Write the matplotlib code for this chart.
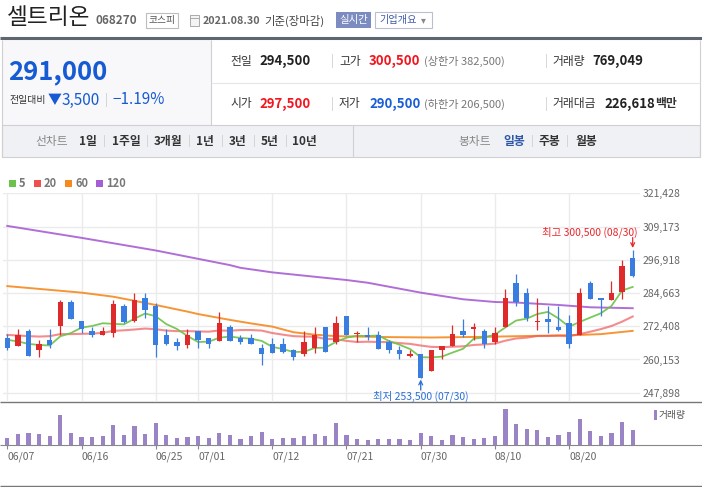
import matplotlib
matplotlib.use('Agg')
import matplotlib.pyplot as plt
from matplotlib.patches import Rectangle
import numpy as np

plt.rcParams['font.family'] = ['Noto Sans CJK KR', 'DejaVu Sans']

# ---------------- data ----------------
dates = ['06/07', '06/08', '06/09', '06/10', '06/11', '06/14', '06/15', '06/16', '06/17', '06/18',
         '06/21', '06/22', '06/23', '06/24', '06/25', '06/28', '06/29', '06/30',
         '07/01', '07/02', '07/05', '07/06', '07/07', '07/08', '07/09', '07/12', '07/13', '07/14',
         '07/15', '07/16', '07/19', '07/20', '07/21', '07/22', '07/23', '07/26', '07/27', '07/28',
         '07/29', '07/30',
         '08/02', '08/03', '08/04', '08/05', '08/06', '08/09', '08/10', '08/11', '08/12', '08/13',
         '08/17', '08/18', '08/19', '08/20', '08/23', '08/24', '08/25', '08/26', '08/27', '08/30']

opens = [268000, 265000, 270500, 263500, 267500, 272500, 281500, 274500, 270500, 269000,
         270000, 280000, 274500, 283000, 280000, 269000, 266500, 265500, 270500, 268000,
         267000, 272000, 268000, 268000, 264500, 266000, 266000, 263500, 262000, 264500,
         272000, 266500, 276000, 269500, 269000, 269000, 266500, 263500, 261500, 262000,
         256000, 263500, 265000, 270500, 271500, 270500, 266500, 272000, 288500, 284500,
         274000, 275000, 272000, 273500, 269000, 288500, 283000, 282000, 285000, 297500]
highs = [269500, 271500, 271500, 267500, 271500, 282000, 282000, 274500, 272000, 272000,
         282000, 280500, 284500, 284500, 281000, 271500, 268000, 271500, 270500, 268000,
         277500, 273000, 269000, 269500, 266000, 268000, 268000, 264000, 270500, 272000,
         272000, 276000, 276000, 270500, 272000, 270500, 267500, 265000, 263500, 262000,
         263500, 265000, 273000, 275000, 273500, 271500, 272000, 286000, 291500, 286500,
         283000, 280000, 280000, 276500, 286500, 289000, 283000, 289000, 297000, 300500]
lows = [263500, 265000, 261500, 261000, 264500, 269000, 275000, 270000, 268500, 269000,
        268500, 273500, 274000, 275500, 261000, 265500, 263500, 264500, 264500, 264500,
        267000, 267000, 266000, 266000, 258000, 262500, 262500, 260000, 261500, 262500,
        263000, 266000, 269000, 266500, 267500, 264000, 262500, 260500, 261000, 253500,
        256000, 260500, 265000, 268500, 267500, 264500, 266000, 272000, 280000, 274500,
        271000, 270000, 270500, 264500, 269000, 282500, 276000, 282000, 282500, 290500]
closes = [264500, 269000, 261500, 266000, 265500, 281500, 275000, 271500, 269000, 270500,
          280500, 274000, 282000, 278500, 265500, 266000, 265000, 269000, 267500, 266000,
          273500, 267000, 266500, 266000, 262000, 262500, 263000, 261000, 266500, 269000,
          263000, 273500, 269000, 270000, 268500, 264000, 263500, 262000, 262000, 253500,
          263500, 265000, 269500, 269000, 272000, 266000, 270000, 283000, 281500, 275500,
          274500, 274000, 271000, 266000, 284500, 282500, 282000, 284500, 294500, 291000]
volumes = [359000, 564000, 615000, 564000, 461000, 1538000, 615000, 410000, 410000, 461000,
           1025000, 513000, 974000, 564000, 1128000, 513000, 359000, 410000, 461000, 359000,
           615000, 513000, 308000, 461000, 667000, 308000, 359000, 359000, 461000, 564000,
           461000, 1128000, 513000, 308000, 256000, 308000, 308000, 308000, 256000, 615000,
           461000, 256000, 513000, 410000, 308000, 359000, 461000, 1846000, 1077000, 820000,
           769000, 410000, 513000, 667000, 1333000, 718000, 461000, 615000, 1179000, 769049]

ma5 = [267400, 266800, 265900, 265500, 265300, 268700, 269900, 271900, 272500, 273500,
       273300, 273100, 275200, 277100, 276100, 273200, 271400, 268800, 266600, 266700,
       268200, 268600, 268100, 267800, 267000, 264800, 264000, 262900, 263000, 264400,
       264500, 266600, 268200, 268900, 268800, 269000, 267000, 265600, 264000, 261000,
       260900, 261200, 262700, 264100, 267800, 268300, 269300, 272000, 274500, 275200,
       276900, 277700, 275300, 272200, 274000, 275600, 277200, 279900, 285600, 286900]
ma20 = [269200, 269000, 268750, 268600, 268750, 269500, 269500, 269600, 269700, 269950,
        270700, 270900, 271200, 271550, 271300, 270800, 270600, 270600, 270500, 270400,
        270850, 270750, 271000, 271000, 270800, 269900, 269300, 268750, 268600, 268550,
        267700, 267650, 267000, 266600, 266700, 266600, 266550, 266200, 265900, 265300,
        264800, 264700, 264850, 265000, 265500, 265700, 266000, 267100, 267900, 268200,
        268800, 268800, 268900, 268700, 269500, 270400, 271350, 272500, 274100, 276000]
ma60_idx = [0, 7, 10, 14, 17, 18, 21, 23, 25, 27, 29, 31, 36, 40, 45, 51, 54, 56, 59]
ma60 = [287200, 284800, 283300, 280250, 277800, 276900, 274750, 273450, 272270, 270200,
        269300, 268750, 268400, 268250, 268500, 268950, 269200, 269500, 270700]
ma120_idx = [0, 7, 14, 21, 22, 25, 32, 34, 39, 43, 46, 48, 52, 55, 59]
ma120 = [309400, 305000, 300350, 294950, 293950, 292270, 289450, 288450, 284800, 282350,
         281350, 281150, 280250, 279400, 279050]

price_ticks = [247898, 260153, 272408, 284663, 296918, 309173, 321428]
date_ticks = ['06/07', '06/16', '06/25', '07/01', '07/12', '07/21', '07/30', '08/10', '08/20']
ma_labels = ['5', '20', '60', '120']

# ---------------- styles ----------------
RED = '#de2a2a'
BLUE = '#3a7de0'
VOL = '#9b84c6'
MA_COLORS = ['#6cc24a', '#ee5050', '#f58a1f', '#a65fd2']
W, H = 702, 487

fig = plt.figure(figsize=(W / 100, H / 100), dpi=100)
bg = fig.add_axes([0, 0, 1, 1])
bg.set_xlim(0, W)
bg.set_ylim(H, 0)
bg.axis('off')


def rect(x0, y0, x1, y1, fc='none', ec='none', lw=0.8, z=1):
    bg.add_patch(Rectangle((x0, y0), x1 - x0, y1 - y0, facecolor=fc, edgecolor=ec, lw=lw, zorder=z))


def hl(y, x0, x1, color, lw=0.8):
    bg.plot([x0, x1], [y, y], color=color, lw=lw, solid_capstyle='butt', zorder=2)


def vl(x, y0, y1, color, lw=0.8):
    bg.plot([x, x], [y0, y1], color=color, lw=lw, solid_capstyle='butt', zorder=2)


def tx(x, y, s, fs, color='#333', weight='normal', ha='left'):
    bg.text(x, y, s, fontsize=fs, color=color, fontweight=weight, ha=ha, va='center', zorder=3)


# ---------------- header ----------------
tx(7, 18, '셀트리온', 16.3, '#222')
tx(95, 20.5, '068270', 8.5, '#666', 'bold')
rect(145.5, 12.5, 178, 27.5, fc='white', ec='#bdbdbd')
tx(161.7, 20, '코스피', 7, '#555', ha='center')
rect(190, 15, 199, 26, fc='#f4f4f4', ec='#aaaaaa', lw=0.7)
hl(18, 190, 199, '#aaaaaa', 0.7)
tx(203, 20.5, '2021.08.30', 7.7, '#666', 'bold')
tx(264, 20.5, '기준(장마감)', 8.2, '#444')
rect(336, 12, 371, 28, fc='#7c8cc0', ec='none')
tx(353.5, 20, '실시간', 7.5, 'white', ha='center')
rect(375, 12, 432, 28, fc='white', ec='#b9bfd0')
tx(379, 20, '기업개요', 7.3, '#3d5ba9')
tx(421, 20, '▾', 7, '#888')

hl(38.3, 0, W, '#5e6670', 2.2)

# info panel
rect(2, 40, 210.5, 125, fc='#f8f8fa')
vl(2, 40, 157, '#d0d0d0')
vl(700, 40, 157, '#d0d0d0')
vl(210.5, 40, 125, '#d0d0d0')
hl(82.5, 210.5, 700, '#e6e6e6')
rect(2, 125, 700, 157, fc='#f0f1f5', ec='#cfcfd4')
vl(352.5, 125, 157, '#cfcfd4')

PBLUE = '#165bd3'
tx(8, 72, '291,000', 18.5, PBLUE, 'bold')
tx(10, 100, '전일대비', 7.1, '#333')
tx(47.5, 100, '▼', 10, PBLUE)
tx(61.5, 100, '3,500', 11, PBLUE)
tx(105, 100, '|', 9, '#cccccc')
tx(112, 100, '−1.19%', 11, PBLUE)

VRED = '#f2161e'
VBLUE = '#1a5fd6'
rows = [61.5, 104]
tx(230, rows[0], '전일', 8.5, '#333')
tx(259, rows[0], '294,500', 9.5, '#222', 'bold')
tx(331, rows[0], '|', 8.5, '#cccccc')
tx(339, rows[0], '고가', 8.5, '#333')
tx(369, rows[0], '300,500', 9.5, VRED, 'bold')
tx(424, rows[0], '(상한가 382,500)', 8, '#777')
tx(545, rows[0], '|', 8.5, '#cccccc')
tx(552, rows[0], '거래량', 8.5, '#333')
tx(592, rows[0], '769,049', 9.5, '#222', 'bold')

tx(230, rows[1], '시가', 8.5, '#333')
tx(259, rows[1], '297,500', 9.5, VRED, 'bold')
tx(331, rows[1], '|', 8.5, '#cccccc')
tx(339, rows[1], '저가', 8.5, '#333')
tx(369, rows[1], '290,500', 9.5, VBLUE, 'bold')
tx(424, rows[1], '(하한가 206,500)', 8, '#777')
tx(545, rows[1], '|', 8.5, '#cccccc')
tx(552, rows[1], '거래대금', 8.5, '#333')
tx(604, rows[1], '226,618', 9.5, '#222', 'bold')
tx(655, rows[1], '백만', 8.5, '#333', 'bold')

# tab bar
ty = 141
tx(35, ty, '선차트', 8.5, '#888')
for xx, s in [(79, '1일'), (112, '1주일'), (154, '3개월'), (196, '1년'), (229, '3년'), (261, '5년'), (292, '10년')]:
    tx(xx, ty, s, 8.5, '#333', 'bold')
for xx in [103, 146, 188, 221, 253, 285]:
    tx(xx, ty, '|', 8, '#cccccc')
tx(458, ty, '봉차트', 8.5, '#888')
tx(503, ty, '일봉', 8.5, '#2d58a9', 'bold')
tx(531, ty, '|', 8, '#cccccc')
tx(539, ty, '주봉', 8.5, '#333', 'bold')
tx(566, ty, '|', 8, '#cccccc')
tx(575, ty, '월봉', 8.5, '#333', 'bold')

# MA legend
for (sx, lx), lab, col in zip([(9, 19), (34, 44), (65, 75), (96, 106)], ma_labels, MA_COLORS):
    rect(sx, 180, sx + 7, 187, fc=col)
    tx(lx, 183.5, lab, 8, '#777', 'bold')

# panel separators
hl(402.3, 0, W, '#777777', 1.0)
hl(445, 0, W, '#888888', 0.8)
hl(485.5, 0, W, '#777777', 1.0)
rect(654, 410, 657, 420, fc=VOL)
tx(659, 415, '거래량', 7, '#555')

# ---------------- price axes ----------------
x = np.arange(len(dates))
o = np.array(opens)
hi = np.array(highs)
lo = np.array(lows)
c = np.array(closes)
tick_idx = [dates.index(d) for d in date_ticks]
XLIM = (-0.406, 59.69)

ax = fig.add_axes([3 / W, (H - 402) / H, 637 / W, (402 - 193.3) / H])
ax.set_facecolor('none')
ax.set_xlim(*XLIM)
ax.set_ylim(244470, 321428)
for s in ax.spines.values():
    s.set_visible(False)
ax.set_yticks(price_ticks)
ax.set_yticklabels([f'{v:,}' for v in price_ticks])
ax.yaxis.tick_right()
ax.tick_params(axis='y', length=0, pad=2, labelsize=7.5, labelcolor='#666')
ax.set_xticks(tick_idx)
ax.tick_params(axis='x', length=0, labelbottom=False)
ax.grid(True, color='#ebebeb', lw=1.0)
ax.set_axisbelow(True)

ax.plot(ma120_idx, ma120, color=MA_COLORS[3], lw=1.4, alpha=0.9, zorder=2)
ax.plot(ma60_idx, ma60, color=MA_COLORS[2], lw=1.4, alpha=0.9, zorder=2)
ax.plot(x, ma20, color=MA_COLORS[1], lw=1.5, alpha=0.65, zorder=2)
ax.plot(x, ma5, color=MA_COLORS[0], lw=1.3, alpha=0.9, zorder=2)

up = c >= o
cols = np.where(up, RED, BLUE)
ax.vlines(x, lo, hi, colors=cols, lw=0.9, zorder=3)
body_bot = np.minimum(o, c)
body_h = np.maximum(np.abs(c - o), 450)
ax.bar(x, body_h, bottom=body_bot, width=0.5, color=cols, lw=0, zorder=4)

ih = int(np.argmax(hi))
il = int(np.argmin(lo))
ax.annotate('', xy=(ih, hi[ih]), xytext=(0, 9), textcoords='offset points',
            arrowprops=dict(arrowstyle='->', color='#e8262a', lw=0.9, shrinkA=0, shrinkB=1.5,
                            mutation_scale=7), annotation_clip=False)
ax.annotate(f'최고 {hi[ih]:,} ({dates[ih]})', xy=(ih, hi[ih]), xytext=(3.5, 12.5),
            textcoords='offset points', ha='right', va='center', color='#e8262a', fontsize=7.5,
            annotation_clip=False)
ax.annotate('', xy=(il, lo[il]), xytext=(0, -9), textcoords='offset points',
            arrowprops=dict(arrowstyle='->', color='#2a6fd6', lw=0.9, shrinkA=0, shrinkB=1.5,
                            mutation_scale=7), annotation_clip=False)
ax.annotate(f'최저 {lo[il]:,} ({dates[il]})', xy=(il, lo[il]), xytext=(0, -13.3),
            textcoords='offset points', ha='center', va='center', color='#2a6fd6', fontsize=7.5,
            annotation_clip=False)

# ---------------- volume axes ----------------
vax = fig.add_axes([3 / W, (H - 445) / H, 637 / W, (445 - 402.3) / H])
vax.set_facecolor('none')
vax.set_xlim(*XLIM)
vax.set_ylim(0, 2190000)
vax.bar(x, volumes, width=0.4, color=VOL, lw=0, zorder=3)
for s in vax.spines.values():
    s.set_visible(False)
vax.set_yticks([])
vax.set_xticks(tick_idx)
vax.set_xticklabels(date_ticks)
for t in vax.get_xticklabels():
    t.set_ha('left')
vax.tick_params(axis='x', length=3, width=0.8, color='#888', labelsize=7.5, labelcolor='#666', pad=2)

fig.savefig('out.png', dpi=100)
